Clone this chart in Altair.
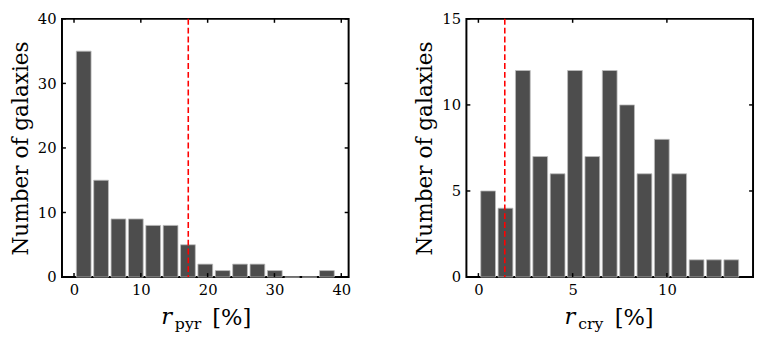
import altair as alt
import pandas as pd

# ---- data ----
pyr_counts = [35, 15, 9, 9, 8, 8, 5, 2, 1, 2, 2, 1, 0, 0, 1]
pyr_start = 0.15
pyr_binw = 2.6
pyr_median = 17.1

cry_counts = [5, 4, 12, 7, 6, 12, 7, 12, 10, 6, 8, 6, 1, 1, 1]
cry_start = 0.055
cry_binw = 0.9215
cry_median = 1.40

pyr_xticks = [0, 10, 20, 30, 40]
pyr_yticks = [0, 10, 20, 30, 40]
cry_xticks = [0, 5, 10]
cry_yticks = [0, 5, 10, 15]

W, H = 292, 263
FONT = "DejaVu Serif"
BAR = "#4d4d4d"


def panel(counts, start, binw, median, xdom, ydom, xticks, yticks, sub, offs):
    df = pd.DataFrame({
        "lo": [start + i * binw for i in range(len(counts))],
        "hi": [start + (i + 1) * binw for i in range(len(counts))],
        "n": counts,
    })
    xs = alt.Scale(domain=xdom, nice=False, zero=False)
    ys = alt.Scale(domain=ydom, nice=False, zero=False)
    xax = alt.Axis(
        values=xticks, ticks=False, domain=False, grid=False, title=None,
        labelFont=FONT, labelFontSize=15, labelColor="black", labelPadding=6,
        format="d")
    yax = alt.Axis(
        values=yticks, ticks=False, domain=False, grid=False,
        title="Number of galaxies", titleFont=FONT, titleFontSize=22,
        titleFontWeight="normal", titleColor="black", titlePadding=5,
        labelFont=FONT, labelFontSize=15, labelColor="black", labelPadding=6,
        format="d")

    bars = alt.Chart(df).transform_calculate(
        a="datum.lo + 0.075*(datum.hi-datum.lo)",
        b="datum.hi - 0.075*(datum.hi-datum.lo)",
    ).mark_bar(color=BAR, stroke="#bdbdbd", strokeWidth=0.8).encode(
        x=alt.X("a:Q", scale=xs, axis=xax),
        x2="b:Q",
        y=alt.Y("n:Q", scale=ys, axis=yax),
        y2=alt.datum(0),
    )

    vline = alt.Chart(pd.DataFrame({"m": [median]})).mark_rule(
        color="#ff0000", strokeDash=[6, 3], strokeWidth=1.6
    ).encode(x=alt.X("m:Q", scale=xs, axis=xax))

    xt = pd.DataFrame({"v": xticks})
    yt = pd.DataFrame({"v": yticks})
    tk = dict(color="black", strokeWidth=1.5)
    xb = alt.Chart(xt).mark_rule(**tk).encode(
        x=alt.X("v:Q", scale=xs, axis=xax), y=alt.value(H), y2=alt.value(H - 4))
    xtp = alt.Chart(xt).mark_rule(**tk).encode(
        x=alt.X("v:Q", scale=xs, axis=xax), y=alt.value(0), y2=alt.value(4))
    yl = alt.Chart(yt).mark_rule(**tk).encode(
        y=alt.Y("v:Q", scale=ys, axis=yax), x=alt.value(0), x2=alt.value(4))
    yr = alt.Chart(yt).mark_rule(**tk).encode(
        y=alt.Y("v:Q", scale=ys, axis=yax), x=alt.value(W), x2=alt.value(W - 4))

    one = pd.DataFrame({"d": [0]})
    t_r = alt.Chart(one).mark_text(
        font=FONT, fontSize=23, fontStyle="italic", align="left",
        baseline="alphabetic", color="black"
    ).encode(x=alt.value(offs[0]), y=alt.value(H + 48), text=alt.value("r"))
    t_sub = alt.Chart(one).mark_text(
        font=FONT, fontSize=16, align="left", baseline="alphabetic", color="black"
    ).encode(x=alt.value(offs[1]), y=alt.value(H + 53), text=alt.value(sub))
    t_pc = alt.Chart(one).mark_text(
        font=FONT, fontSize=23, align="left", baseline="alphabetic", color="black"
    ).encode(x=alt.value(offs[2]), y=alt.value(H + 49), text=alt.value("[%]"))

    return alt.layer(bars, vline, xb, xtp, yl, yr, t_r, t_sub, t_pc).properties(
        width=W, height=H)


left = panel(pyr_counts, pyr_start, pyr_binw, pyr_median, [-1.8, 41.1], [0, 40],
             pyr_xticks, pyr_yticks, "pyr", (101, 115, 153))
right = panel(cry_counts, cry_start, cry_binw, cry_median, [-0.636, 14.57], [0, 15],
              cry_xticks, cry_yticks, "cry", (100, 114, 151))

chart = alt.hconcat(left, right, spacing=61).properties(
    padding={"left": 0, "top": 0, "right": 0, "bottom": 0}
).configure(background="white").configure_view(stroke="black", strokeWidth=2)

chart.save("out.html", embed_options={"renderer": "svg", "actions": False})
